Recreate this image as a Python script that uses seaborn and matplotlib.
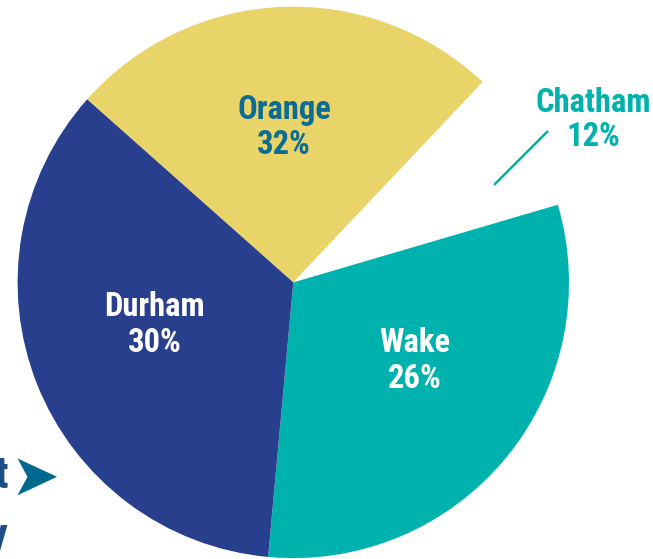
import matplotlib
matplotlib.use("Agg")
import matplotlib.pyplot as plt
import seaborn as sns
from matplotlib import font_manager

# ---- data ----
counties = ["Orange", "Chatham", "Wake", "Durham"]
label_pcts = [32, 12, 26, 30]              # percentages printed on the chart
slice_shares = [25.5, 8.4, 31.0, 35.1]     # slice sizes as drawn in the picture
slice_colors = ["#E8D468", "#FFFFFF", "#00B2AE", "#283F8E"]
label_colors = ["#0E6C94", "#00B2AE", "#FFFFFF", "#FFFFFF"]

sns.set_theme(style="white")

# pick a condensed bold face if one is installed
fam, stretch, fsize = "Roboto", "normal", 20
ttf = font_manager.fontManager.ttflist
names = {f.name for f in ttf}
for cand in ["Roboto Condensed", "Liberation Sans Narrow", "Open Sans Condensed"]:
    if cand in names:
        fam, fsize = cand, 23.5
        break
plt.rcParams["font.family"] = [fam, "DejaVu Sans"]

W, H = 653, 559
fig = plt.figure(figsize=(W / 100, H / 100), dpi=100)
ax = fig.add_axes([0, 0, 1, 1])

cx, cy, r = 293.3, H - 282.4, 275.7
ax.pie(slice_shares, colors=slice_colors, startangle=138.4, counterclock=False,
       center=(cx, cy), radius=r, frame=True,
       wedgeprops=dict(linewidth=0, antialiased=True))
ax.set_xlim(0, W)
ax.set_ylim(0, H)
ax.set_aspect("equal")
ax.axis("off")

label_pos = {"Orange": (284, H - 127), "Chatham": (593, H - 120),
             "Wake": (415, H - 361), "Durham": (155, H - 325)}
for name, pct, col in zip(counties, label_pcts, label_colors):
    x, y = label_pos[name]
    ax.text(x, y, f"{name}\n{pct}%", ha="center", va="center", color=col,
            fontsize=fsize, fontweight="bold", fontstretch=stretch,
            linespacing=1.12)

# leader line for Chatham
ax.plot([494, 548], [H - 185, H - 131], color="#00B2AE", lw=1.8,
        solid_capstyle="butt")

# cropped fragments of surrounding text
ax.text(8, H - 476, "t", ha="right", va="center", color="#1D4E86",
        fontsize=32, fontweight="bold")
ax.text(35, H - 478, "\u27A4", ha="center", va="center", color="#00698F",
        fontsize=42, family="DejaVu Sans")
ax.text(8, H - 537, "y", ha="right", va="center", color="#1D4E86",
        fontsize=32, fontweight="bold")

fig.savefig("out.png", dpi=100)
